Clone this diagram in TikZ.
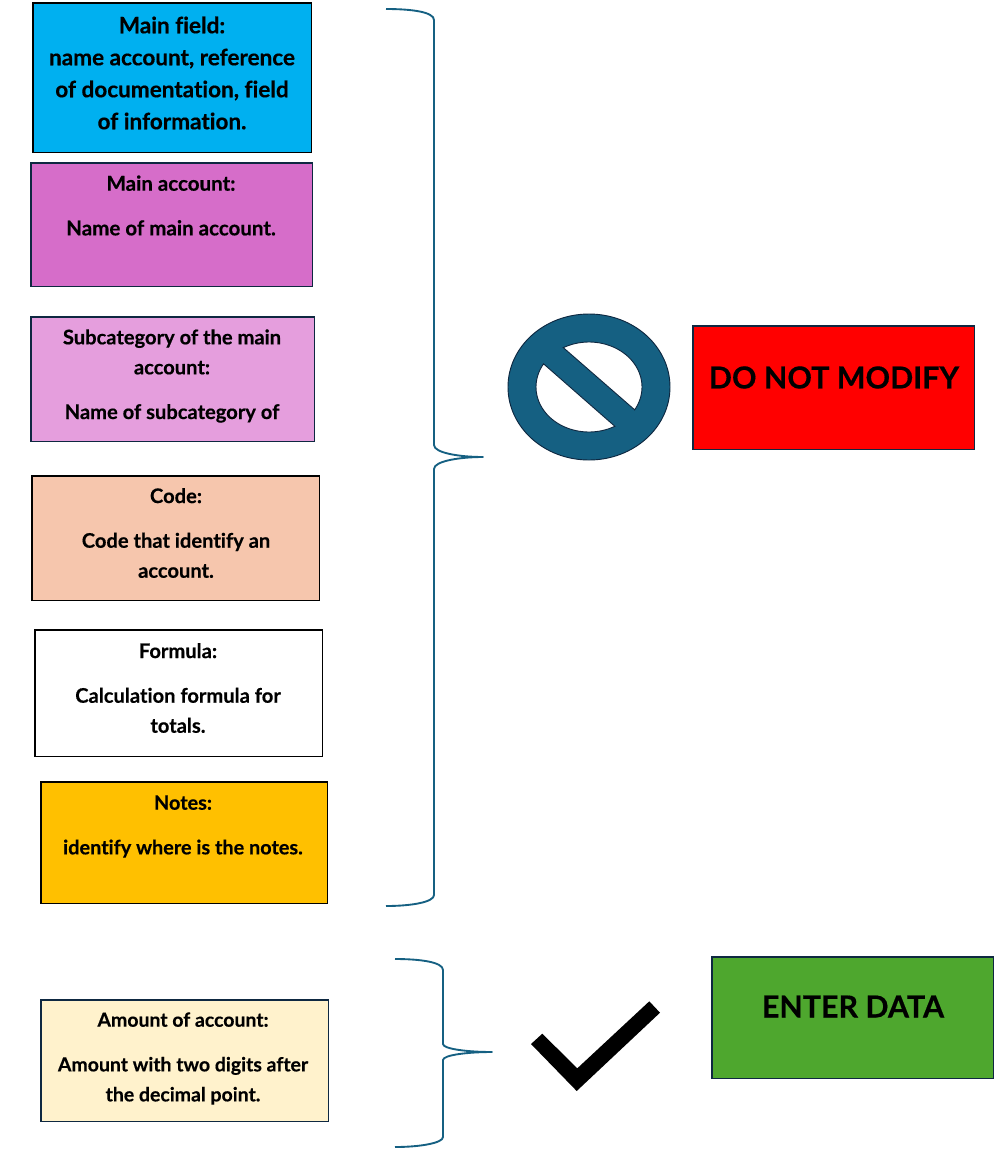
\documentclass[tikz,border=0pt]{standalone}
\usepackage{fontspec}
\newfontfamily\labfont{Lato Bold}[FakeBold=0.4,Ligatures=CommonOff]
\tikzset{x=0.75pt,y=-0.75pt,
  box/.style={draw=#1,line width=1.2pt,inner sep=0pt,anchor=north west},
  txt/.style={font=\labfont\fontsize{15.1}{22.5}\selectfont,align=center,inner sep=0pt,anchor=center,text=black},
  bigtxt/.style={font=\labfont\fontsize{22.8}{28}\selectfont,align=center,inner sep=0pt,anchor=center,text=black},
  brace/.style={draw=braceblue,line width=1.4pt,line join=round},
  nosign/.style={draw=navy,line width=0.7pt}}
\definecolor{braceblue}{HTML}{156082}
\definecolor{navy}{HTML}{0E2841}
\begin{document}
\begin{tikzpicture}
\useasboundingbox (0,0) rectangle (1003,1150);
\fill[white] (0,0) rectangle (1003,1150);
\newcommand{\boxat}[7]{\node[box=#6,fill=#5,minimum width=#3*0.75pt,minimum height=#4*0.75pt] (#7) at (#1,#2) {};}
\definecolor{cA}{HTML}{00B0F0}\definecolor{cB}{HTML}{D66DC9}\definecolor{cC}{HTML}{E59EDD}
\definecolor{cD}{HTML}{F6C6AD}\definecolor{cF}{HTML}{FFC000}\definecolor{cG}{HTML}{FFF2CC}
\definecolor{cR}{HTML}{FF0000}\definecolor{cE}{HTML}{4EA72E}
\boxat{32}{2}{278.5}{149.5}{cA}{black}{a}
\boxat{30}{162}{281.5}{123.5}{cB}{navy}{b}
\boxat{30}{316}{283.5}{124.5}{cC}{navy}{c}
\boxat{31}{475}{287.5}{124.5}{cD}{black}{d}
\boxat{34}{629}{287.5}{126.5}{white}{black}{e}
\boxat{40}{781}{286.5}{121.5}{cF}{black}{f}
\boxat{40}{999}{287.5}{121.5}{cG}{navy}{g}
\boxat{692}{325}{281.5}{123.5}{cR}{navy}{r}
\boxat{711}{956}{281.5}{121.5}{cE}{navy}{s}
\node[txt,font=\labfont\fontsize{16.9}{24}\selectfont] (ta) at (172,73) {Main field:\\name account, reference\\of documentation, field\\of information.};
\node[txt,font=\labfont\fontsize{15.4}{22.5}\selectfont] (tb) at (171,205.5) {Main account:\\[11pt]Name of main account.};
\node[txt] (tc) at (172,376) {Subcategory of the main\\account:\\[11pt]Name of subcategory of};
\node[txt] (td) at (176,533) {Code:\\[11pt]Code that identify an\\account.};
\node[txt] (te) at (178,688) {Formula:\\[11pt]Calculation formula for\\totals.};
\node[txt,font=\labfont\fontsize{14.9}{22.5}\selectfont] (tf) at (183,826.5) {Notes:\\[11pt]identify where is the notes.};
\node[txt,font=\labfont\fontsize{14.6}{22.5}\selectfont] (tg) at (183,1058.5) {Amount of account:\\[11pt]Amount with two digits after\\the decimal point.};
\node[bigtxt] (tr) at (834,377.5) {DO NOT MODIFY};
\node[bigtxt] (ts) at (853,1006.5) {ENTER DATA};
\draw[brace] (386,9) .. controls (412,9) and (434,12) .. (434,20) -- (434,445) .. controls (434,453) and (460,457) .. (483,457) .. controls (460,457) and (434,461) .. (434,469) -- (434,895) .. controls (434,902) and (412,906) .. (386,906);
\draw[brace] (395,959) .. controls (420,959) and (443,962) .. (443,970) -- (443,1044) .. controls (443,1049) and (468,1052) .. (492,1052) .. controls (468,1052) and (443,1055) .. (443,1060) -- (443,1137) .. controls (443,1143) and (420,1147) .. (395,1147);
\filldraw[nosign,fill=braceblue] (589,387) ellipse [x radius=81,y radius=73];
\filldraw[nosign,fill=white] plot[domain=-119:30.5,samples=50] ({589+53*cos(\x)},{387+45*sin(\x)}) -- cycle;
\filldraw[nosign,fill=white] plot[domain=60.8:211,samples=50] ({589+53*cos(\x)},{387+45*sin(\x)}) -- cycle;
\fill[black] (531,1044) -- (542.3,1033.7) -- (577.3,1068.3) -- (649.3,1001.3) -- (660,1012.7) -- (576.7,1091) -- cycle;
\end{tikzpicture}
\end{document}
